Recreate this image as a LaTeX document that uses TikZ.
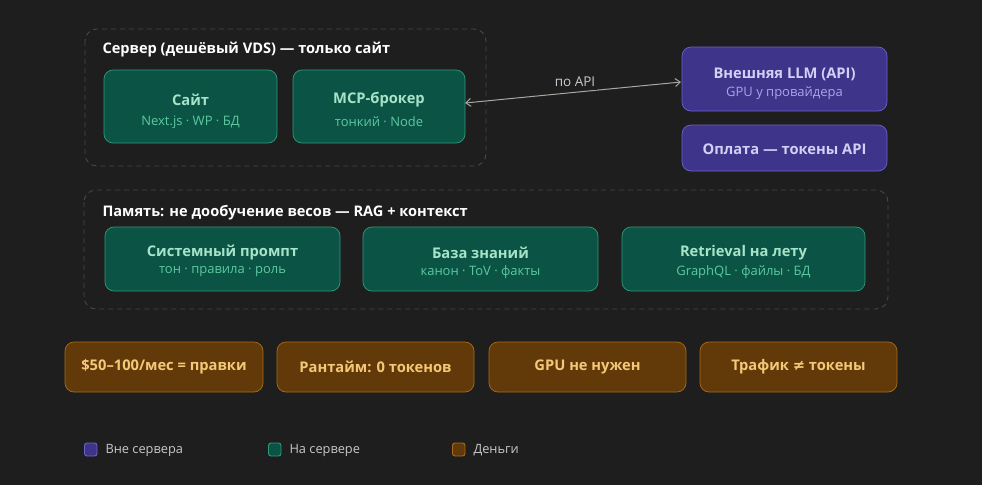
\documentclass[tikz,border=0pt]{standalone}
\usepackage{fontspec}
\setmainfont{Open Sans}
\newfontfamily\symfont{DejaVu Sans}
\usetikzlibrary{arrows.meta}
\definecolor{bg}{HTML}{1E1E1E}
\definecolor{grpline}{HTML}{474747}
\definecolor{tfill}{HTML}{0B5445}
\definecolor{tline}{HTML}{2F9A7A}
\definecolor{ttitle}{HTML}{A6E3C8}
\definecolor{tsub}{HTML}{5BC9A0}
\definecolor{pfill}{HTML}{3E3489}
\definecolor{pline}{HTML}{6B61CC}
\definecolor{ptitle}{HTML}{D4D0F5}
\definecolor{psub}{HTML}{ABA4E8}
\definecolor{bfill}{HTML}{623A09}
\definecolor{bline}{HTML}{A96B18}
\definecolor{btext}{HTML}{F5C877}
\definecolor{legtext}{HTML}{C8C8C8}
\definecolor{arrowc}{HTML}{A8A8A0}
\begin{document}
\begin{tikzpicture}[x=1pt,y=-1pt,
  grp/.style={draw=grpline, dashed, dash pattern=on 5pt off 4pt, rounded corners=12pt, line width=0.9pt},
  grptitle/.style={anchor=west, text=white, font=\bfseries\fontsize{14.6}{17}\selectfont},
  tbox/.style={draw=tline, fill=tfill, rounded corners=9pt, line width=0.7pt},
  pbox/.style={draw=pline, fill=pfill, rounded corners=9pt, line width=0.7pt},
  bbox/.style={draw=bline, fill=bfill, rounded corners=9pt, line width=0.7pt},
  ttl/.style={font=\bfseries\fontsize{14.7}{17}\selectfont},
  sub/.style={font=\fontsize{13}{15}\selectfont},
  leg/.style={anchor=west, text=legtext, font=\fontsize{12.8}{15}\selectfont},
  legsq/.style={rounded corners=2.5pt, line width=0.9pt}
]
\fill[bg] (0,0) rectangle (982,485);
\useasboundingbox (0,0) rectangle (982,485);

% group 1
\draw[grp] (85,29) rectangle (486,166);
\node[grptitle] (g1t) at (99,50) {Сервер (дешёвый VDS) — только сайт};
\draw[tbox] (104,70) rectangle (277,143);
\node[ttl,text=ttitle] (sait) at (190.5,100) {Сайт};
\node[sub,text=tsub] (saits) at (190.5,122) {Next.js · WP · БД};
\draw[tbox] (293,70) rectangle (465,143);
\coordinate (mcpE) at (465,103);
\node[ttl,text=ttitle] (mcp) at (379,100) {MCP-брокер};
\node[sub,text=tsub] (mcps) at (379,122) {тонкий · Node};

% purple
\draw[pbox] (682,47) rectangle (887,111);
\coordinate (llmW) at (681,82);
\node[ttl,text=ptitle] (llm) at (784.5,74) {Внешняя LLM (API)};
\node[sub,text=psub] (llms) at (784.5,93) {GPU у провайдера};
\draw[pbox] (682,125) rectangle (887,171);
\node[ttl,text=ptitle] (pay) at (784.5,149) {Оплата — токены API};

% arrow
\draw[arrowc, line width=1pt, {Straight Barb[length=5pt,width=8pt]}-{Straight Barb[length=5pt,width=8pt]}] (mcpE) -- (llmW);
\node[fill=bg, inner xsep=2pt, inner ysep=3pt, text=legtext, font=\fontsize{13.5}{15}\selectfont] (lbl) at (575,82) {по API};

% group 2
\draw[grp] (84,190) rectangle (888,309);
\node[grptitle] (g2t) at (99,213) {Память: не дообучение весов — RAG + контекст};
\draw[tbox] (105,227) rectangle (340,291);
\node[ttl,text=ttitle] (sp) at (222.5,253) {Системный промпт};
\node[sub,text=tsub] (sps) at (222.5,272) {тон · правила · роль};
\draw[tbox] (363,227) rectangle (598,291);
\node[ttl,text=ttitle] (kb) at (480.5,253) {База знаний};
\node[sub,text=tsub] (kbs) at (480.5,272) {канон · ToV · факты};
\draw[tbox] (622,227) rectangle (865,291);
\node[ttl,text=ttitle] (rt) at (743.5,253) {Retrieval на лету};
\node[sub,text=tsub] (rts) at (743.5,272) {GraphQL · файлы · БД};

% brown
\draw[bbox] (65,342) rectangle (263,392);
\node[ttl,text=btext] (b1) at (164,367) {\$50–100/мес = правки};
\draw[bbox] (277,342) rectangle (474,392);
\node[ttl,text=btext] (b2) at (375.5,367) {Рантайм: 0 токенов};
\draw[bbox] (489,342) rectangle (686,392);
\node[ttl,text=btext] (b3) at (587.5,367) {GPU не нужен};
\draw[bbox] (700,342) rectangle (897,392);
\node[ttl,text=btext] (b4) at (798.5,367) {Трафик {\symfont\bfseries ≠} токены};

% legend
\draw[legsq, draw=pline, fill=pfill] (84.5,443) rectangle (97,456);
\node[leg] (l1) at (102,450) {Вне сервера};
\draw[legsq, draw=tline, fill=tfill] (268.5,443) rectangle (281,456);
\node[leg] (l2) at (286,450) {На сервере};
\draw[legsq, draw=bline, fill=bfill] (452.5,443) rectangle (465,456);
\node[leg] (l3) at (470,450) {Деньги};
\end{tikzpicture}
\end{document}
